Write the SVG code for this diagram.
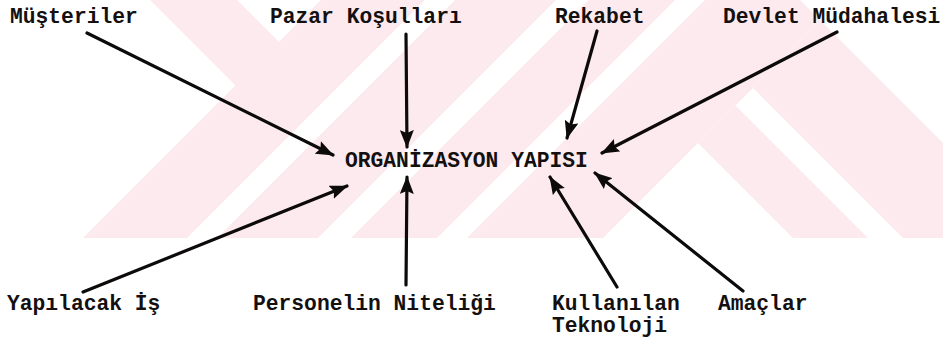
<svg xmlns="http://www.w3.org/2000/svg" width="943" height="341" viewBox="0 0 943 341">
  <defs>
    <style>
      .lbl { font-family: "Liberation Mono", "Courier New", monospace; font-weight: bold; font-size: 21.3px; fill: #141010; }
      .wm { fill: #fdeaee; }
      .con line { stroke: #0d0a0a; stroke-width: 3.2; stroke-linecap: round; marker-end: url(#ah); }
    </style>
    <marker id="ah" viewBox="0 0 18 14" refX="17" refY="7" markerWidth="18" markerHeight="14" markerUnits="userSpaceOnUse" orient="auto">
      <path d="M0,0 L18,7 L0,14 L3,7 z" fill="#0d0a0a"/>
    </marker>
  </defs>

  <rect width="943" height="341" fill="#ffffff"/>

  <!-- pale background emblem: diagonal bands -->
  <g id="emblem">
    <polygon class="wm" points="150,0 237,0 283.5,46.5 240,90"/>
    <polygon class="wm" points="321,0 425,0 187,238 83,238"/>
    <polygon class="wm" points="455,0 556,0 318,238 217,238"/>
    <polygon class="wm" points="589,0 675,0 437,238 351,238"/>
    <polygon class="wm" points="705,0 800,0 820.5,20.5 603,238 467,238"/>
    <polygon class="wm" points="698,143 735.5,105.5 868,238 793,238"/>
    <polygon class="wm" points="753,88 820.5,20.5 943,143 943,238 903,238"/>
  </g>

  <!-- connectors -->
  <g id="connectors" class="con">
    <line x1="87" y1="33" x2="333" y2="155"/>
    <line x1="406" y1="34" x2="407" y2="147"/>
    <line x1="597" y1="31" x2="567" y2="138"/>
    <line x1="837" y1="32" x2="602" y2="153"/>
    <line x1="83" y1="292" x2="347" y2="186"/>
    <line x1="406" y1="285" x2="407" y2="177"/>
    <line x1="617" y1="287" x2="550" y2="177"/>
    <line x1="743" y1="291" x2="595" y2="173"/>
  </g>

  <!-- nodes -->
  <g id="n-center"><text class="lbl" x="345" y="167">ORGANİZASYON YAPISI</text></g>
  <g id="n-musteriler"><text class="lbl" x="10" y="23">Müşteriler</text></g>
  <g id="n-pazar"><text class="lbl" x="270" y="23">Pazar Koşulları</text></g>
  <g id="n-rekabet"><text class="lbl" x="555" y="23">Rekabet</text></g>
  <g id="n-devlet"><text class="lbl" x="723" y="23">Devlet Müdahalesi</text></g>
  <g id="n-is"><text class="lbl" x="7" y="310">Yapılacak İş</text></g>
  <g id="n-personel"><text class="lbl" x="253" y="310">Personelin Niteliği</text></g>
  <g id="n-teknoloji"><text class="lbl" x="552" y="310">Kullanılan</text><text class="lbl" x="552" y="332">Teknoloji</text></g>
  <g id="n-amaclar"><text class="lbl" x="718" y="310">Amaçlar</text></g>
</svg>
